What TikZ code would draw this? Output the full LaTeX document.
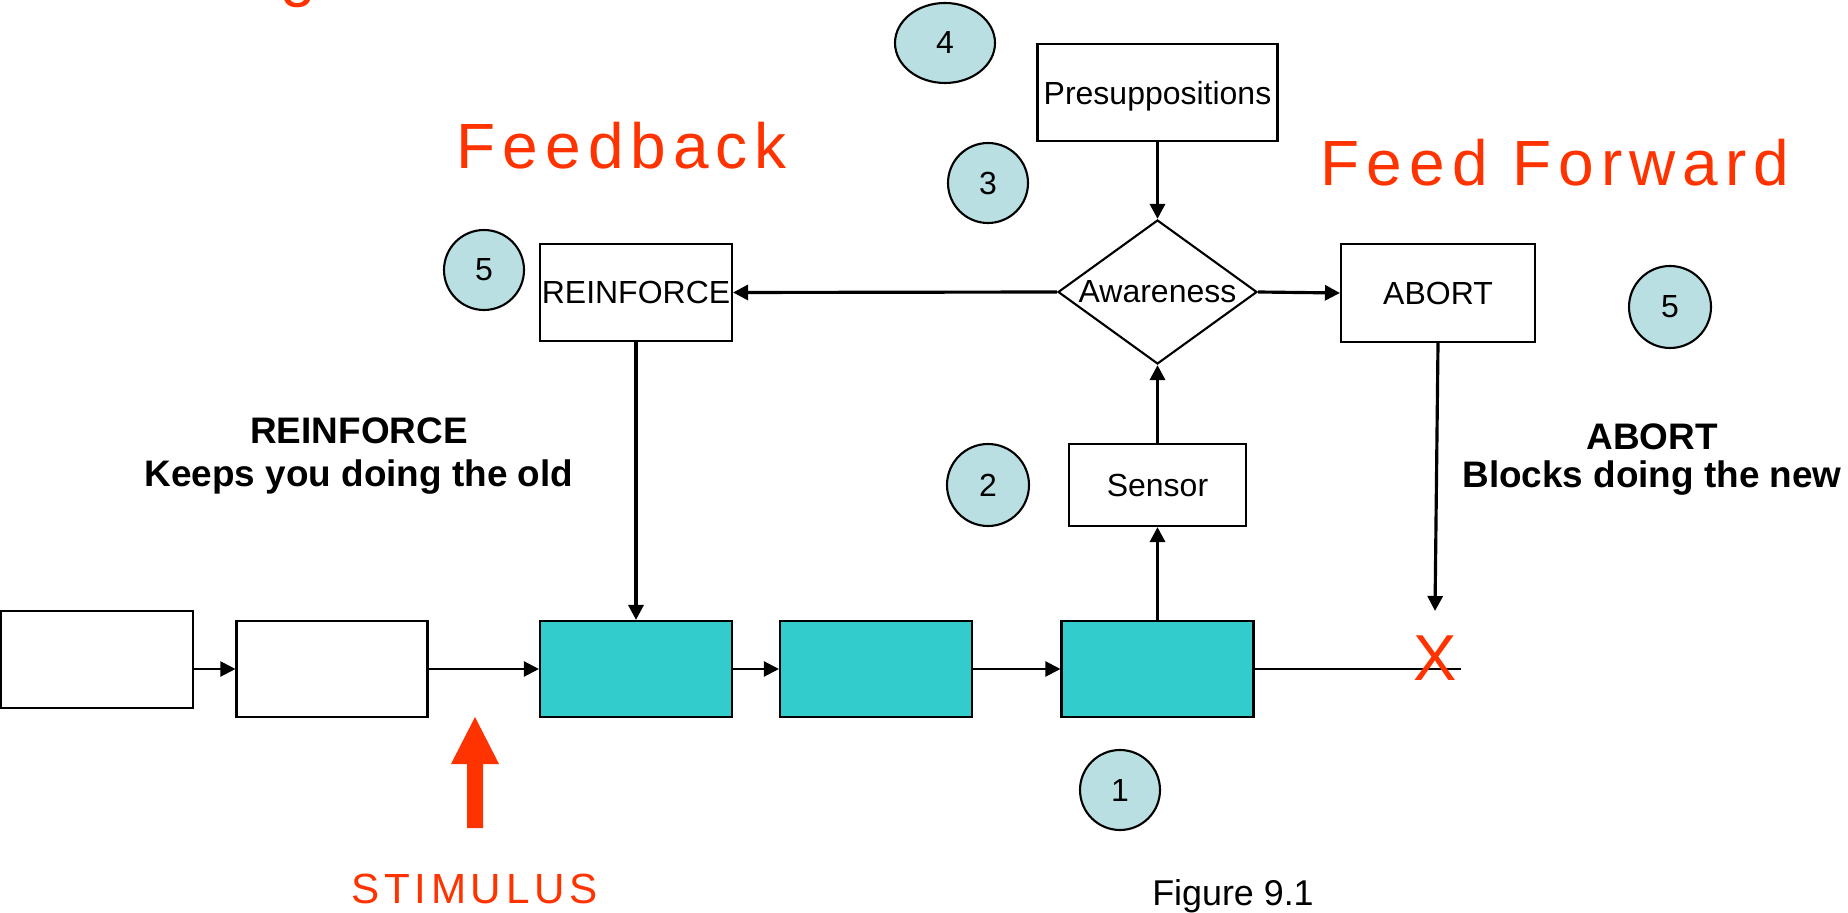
\documentclass[tikz,border=0pt]{standalone}
\usepackage{fontspec}
\setmainfont{Liberation Sans}
\newfontfamily\spacedfont[LetterSpace=11]{Liberation Sans}
\usetikzlibrary{shapes.geometric,arrows.meta}
\definecolor{chaincyan}{HTML}{33CCCC}
\definecolor{ballblue}{HTML}{B9DFE2}
\definecolor{alertred}{HTML}{FF3300}
\tikzset{
  plainbox/.style={draw, line width=0.6pt, minimum width=1.92cm, minimum height=0.97cm,
    inner sep=0pt, font=\fontsize{9.1}{11}\selectfont},
  chainbox/.style={plainbox, fill=chaincyan, minimum height=0.96cm},
  ball/.style={ellipse, draw, line width=0.6pt, fill=ballblue, minimum width=0.8cm,
    minimum height=0.8cm, inner sep=0pt, font=\fontsize{9.1}{11}\selectfont},
  link/.style={line width=0.9pt, -{Triangle[length=0.15cm,width=0.15cm]}},
  thinlink/.style={link, line width=0.6pt},
  remark/.style={font=\bfseries\fontsize{10.5}{12.5}\selectfont, align=center, inner sep=0pt},
  headline/.style={text=alertred, font=\spacedfont\fontsize{18.2}{20}\selectfont,
    inner sep=0pt, anchor=base west}
}
\begin{document}
\begin{tikzpicture}
  \useasboundingbox (0,0) rectangle (18.48,9.12);
  \clip (0,0) rectangle (18.48,9.12);

  % Headings
  \node[headline] (cut) at (2.80,9.175) {g};
  \node[headline] (fb) at (4.56,7.43) {Feedback};
  \node[headline] (ff) at (13.20,7.26) {Feed Forward};

  % Chain of boxes
  \node[plainbox] (first) at (0.97,2.525) {};
  \node[plainbox, minimum width=1.91cm, minimum height=0.96cm] (second) at (3.32,2.43) {};
  \node[chainbox] (old) at (6.36,2.43) {};
  \node[chainbox] (mid) at (8.76,2.43) {};
  \node[chainbox] (new) at (11.575,2.43) {};
  \coordinate (stop) at (14.61,2.43);

  % Upper loop
  \node[plainbox, minimum width=2.40cm, text depth=0pt] (presup) at (11.575,8.195) {Presuppositions};
  \node[diamond, draw, line width=0.6pt, aspect=1.38, minimum width=1.99cm,
    minimum height=1.44cm, inner sep=0pt, font=\fontsize{9.1}{11}\selectfont]
    (aware) at (11.575,6.20) {Awareness};
  \node[plainbox] (reinf) at (6.36,6.195) {REINFORCE};
  \node[plainbox, minimum width=1.94cm, minimum height=0.98cm] (abort) at (14.38,6.19) {ABORT};
  \node[plainbox, minimum width=1.77cm, minimum height=0.82cm] (sensor) at (11.575,4.27) {Sensor};
  \coordinate (hit) at (14.35,3.01);

  % Numbered marks
  \node[ball, minimum width=1.0cm] (m4) at (9.45,8.69) {4};
  \node[ball] (m3) at (9.88,7.29) {3};
  \node[ball] (m5l) at (4.84,6.42) {5};
  \node[ball, minimum width=0.82cm, minimum height=0.82cm] (m5r) at (16.70,6.05) {5};
  \node[ball, minimum width=0.82cm, minimum height=0.82cm] (m2) at (9.88,4.27) {2};
  \node[ball] (m1) at (11.20,1.22) {1};

  % Side notes
  \node[remark] (keep) at (3.59,4.56) {REINFORCE\\Keeps you doing the old};
  \node[remark, font=\bfseries\fontsize{10.5}{10.8}\selectfont] (block) at (16.52,4.52)
    {ABORT\\Blocks doing the new};

  % Connectors
  \draw[thinlink] (first.east |- second.west) -- (second.west);
  \draw[thinlink] (second.east) -- (old.west);
  \draw[thinlink] (old.east) -- (mid.west);
  \draw[thinlink] (mid.east) -- (new.west);
  \draw[line width=0.6pt] (new.east) -- (stop);
  \draw[link] (new.north) -- (sensor.south);
  \draw[link] (sensor.north) -- (aware.south);
  \draw[link] (presup.south) -- (aware.north);
  \draw[link] (aware.west) -- (reinf.east);
  \draw[link] (aware.east) -- (abort.west);
  \draw[link] (reinf.south) -- (old.north);
  \draw[link] (abort.south) -- (hit);
  \node[text=alertred, font=\fontsize{18.5}{20}\selectfont, inner sep=0pt] (cross) at (14.35,2.535) {X};

  % Stimulus
  \fill[alertred] (4.67,0.84) -- (4.67,1.48) -- (4.51,1.48) -- (4.75,1.95)
    -- (4.99,1.48) -- (4.83,1.48) -- (4.83,0.84) -- cycle;
  \node[text=alertred, font=\spacedfont\fontsize{12}{14}\selectfont, inner sep=0pt,
    anchor=base west] (stim) at (3.51,0.09) {STIMULUS};
  \node[font=\fontsize{10.2}{12}\selectfont, inner sep=0pt, anchor=base] (fig) at (12.33,0.07) {Figure 9.1};
\end{tikzpicture}
\end{document}
